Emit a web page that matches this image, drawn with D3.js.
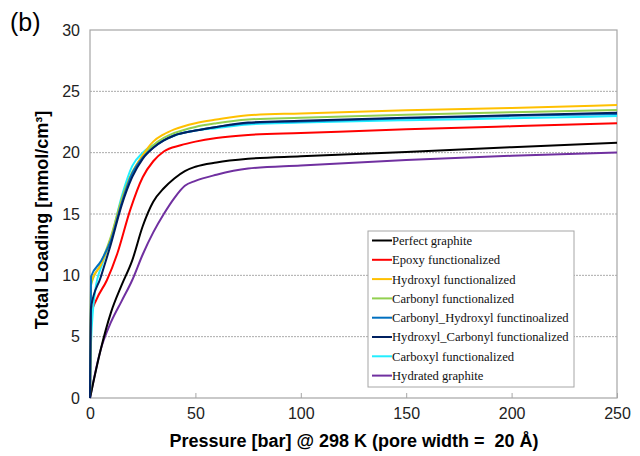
<!DOCTYPE html>
<html lang="en">
<head>
<meta charset="UTF-8" />
<title>Total Loading</title>
<style>
  body { margin: 0; background: #fff; }
  .chart { width: 640px; height: 456px; }
</style>
</head>
<body>
<div class="chart"></div>
<script src="https://cdn.jsdelivr.net/npm/d3@7"></script>
<script>

var xTicks = [0, 50, 100, 150, 200, 250];
var yTicks = [0, 5, 10, 15, 20, 25, 30];

var seriesNames = [
  "Perfect graphite",
  "Epoxy functionalized",
  "Hydroxyl functionalized",
  "Carbonyl functionalized",
  "Carbonyl_Hydroxyl functinoalized",
  "Hydroxyl_Carbonyl functionalized",
  "Carboxyl functionalized",
  "Hydrated graphite"
];
var seriesColors = ["#000000", "#ff0000", "#ffc000", "#92d050", "#0070c0", "#002060", "#22eeff", "#7030a0"];

// pressure [bar], loading [mmol/cm3]
var perfectP = [0, 5, 10, 15, 20, 25, 30, 35, 40, 45, 50, 60, 75, 100, 150, 200, 250];
var perfectL = [0, 3.9, 7.0, 9.2, 11.2, 14.0, 16.0, 17.1, 17.9, 18.5, 18.85, 19.2, 19.5, 19.7, 20.05, 20.45, 20.81];

var epoxyP = [0, 0.5, 3, 8, 13, 19, 25, 30, 35, 43, 50, 60, 75, 100, 150, 200, 250];
var epoxyL = [0, 6.8, 8.0, 9.6, 11.8, 15.3, 18.0, 19.3, 20.1, 20.6, 20.9, 21.2, 21.45, 21.6, 21.9, 22.15, 22.39];

var hydroxylP = [0, 0.5, 5, 10, 15, 20, 25, 30, 35, 40, 50, 60, 75, 100, 150, 200, 250];
var hydroxylL = [0, 9.5, 10.8, 13.0, 16.0, 18.3, 19.8, 20.9, 21.5, 21.9, 22.4, 22.7, 23.05, 23.2, 23.45, 23.65, 23.88];

var carbonylP = [0, 0.5, 5, 10, 15, 20, 25, 30, 35, 40, 50, 60, 75, 100, 150, 200, 250];
var carbonylL = [0, 9.2, 10.9, 13.2, 16.2, 18.4, 19.7, 20.6, 21.2, 21.6, 22.1, 22.4, 22.7, 22.85, 23.1, 23.3, 23.47];

var carbHydP = [0, 0.5, 5, 10, 15, 20, 25, 30, 35, 40, 50, 60, 75, 100, 150, 200, 250];
var carbHydL = [0, 9.9, 11.1, 12.9, 15.9, 18.3, 19.6, 20.4, 21.0, 21.4, 21.8, 22.1, 22.4, 22.55, 22.8, 23.0, 23.15];

var hydCarbP = [0, 0.5, 5, 10, 15, 20, 25, 30, 35, 40, 50, 60, 75, 100, 150, 200, 250];
var hydCarbL = [0, 7.4, 9.8, 12.6, 15.7, 18.0, 19.5, 20.4, 21.0, 21.4, 21.8, 22.1, 22.45, 22.6, 22.85, 23.05, 23.25];

var carboxylP = [0, 0.5, 2.5, 6, 10, 15, 20, 25, 30, 35, 40, 50, 60, 75, 100, 150, 200, 250];
var carboxylL = [0, 4.6, 8.8, 11.0, 13.0, 16.4, 18.9, 20.0, 20.6, 21.0, 21.4, 21.8, 22.0, 22.3, 22.45, 22.65, 22.8, 22.98];

var hydratedP = [0, 5, 10, 15, 20, 25, 30, 35, 40, 45, 50, 60, 75, 100, 150, 200, 250];
var hydratedL = [0, 3.9, 6.2, 7.9, 9.6, 11.7, 13.5, 15.0, 16.3, 17.3, 17.7, 18.2, 18.7, 18.95, 19.4, 19.75, 20.02];

var pressures = [perfectP, epoxyP, hydroxylP, carbonylP, carbHydP, hydCarbP, carboxylP, hydratedP];
var loadings = [perfectL, epoxyL, hydroxylL, carbonylL, carbHydL, hydCarbL, carboxylL, hydratedL];

var width = 640;
var height = 456;
var margin = { top: 30, right: 23, bottom: 58, left: 90 };
var innerW = width - margin.left - margin.right;
var innerH = height - margin.top - margin.bottom;

var svg = d3.select(".chart")
  .append("svg")
  .attr("width", width)
  .attr("height", height)
  .style("font-family", "Arial, 'Liberation Sans', sans-serif");

var g = svg.append("g")
  .attr("transform", "translate(" + margin.left + "," + margin.top + ")");

var x = d3.scaleLinear().domain([0, 250]).range([0, innerW]);
var y = d3.scaleLinear().domain([0, 30]).range([innerH, 0]);

// grid
g.selectAll(".grid")
  .data(yTicks.filter(function(d){ return d > 0 && d < 30; }))
  .enter()
  .append("line")
  .attr("x1", 0)
  .attr("x2", innerW)
  .attr("y1", function(d){ return y(d); })
  .attr("y2", function(d){ return y(d); })
  .attr("stroke", "#aaa")
  .attr("stroke-width", 1)
  .attr("stroke-dasharray", "2,1");

// frame
g.append("rect")
  .attr("x", 0).attr("y", 0)
  .attr("width", innerW).attr("height", innerH)
  .attr("fill", "none")
  .attr("stroke", "#a6a6a6")
  .attr("stroke-width", 1.2);

// axes
var xAxis = g.append("g")
  .attr("transform", "translate(0," + innerH + ")")
  .call(d3.axisBottom(x).tickValues(xTicks).tickSizeInner(-5).tickSizeOuter(0).tickPadding(10));
xAxis.select(".domain").remove();
xAxis.selectAll("line").attr("stroke", "#a6a6a6");
xAxis.selectAll("text").attr("font-size", 16).attr("fill", "#222");

var yAxis = g.append("g")
  .call(d3.axisLeft(y).tickValues(yTicks).tickSize(0).tickPadding(10));
yAxis.select(".domain").remove();
yAxis.selectAll("text").attr("font-size", 16).attr("fill", "#222");

// lines
var line = d3.line()
  .x(function(d){ return x(d[0]); })
  .y(function(d){ return y(d[1]); })
  .curve(d3.curveMonotoneX);

var drawOrder = [7, 0, 1, 6, 3, 2, 4, 5];
drawOrder.forEach(function(i){
  var pts = pressures[i].map(function(p, j){ return [p, loadings[i][j]]; });
  g.append("path")
    .datum(pts)
    .attr("d", line)
    .attr("fill", "none")
    .attr("stroke", seriesColors[i])
    .attr("stroke-width", 2);
});

// legend
var legend = svg.append("g").attr("transform", "translate(368,231)");
legend.append("rect")
  .attr("width", 206).attr("height", 156)
  .attr("fill", "#fff")
  .attr("stroke", "#a6a6a6")
  .attr("stroke-width", 1);

var rows = legend.selectAll(".row")
  .data(seriesNames)
  .enter()
  .append("g")
  .attr("transform", function(d, i){ return "translate(0," + (9.5 + i * 19.3) + ")"; });
rows.append("line")
  .attr("x1", 4).attr("x2", 24)
  .attr("stroke", function(d, i){ return seriesColors[i]; })
  .attr("stroke-width", 2);
rows.append("text")
  .attr("x", 24)
  .attr("dy", "0.35em")
  .attr("font-family", "'Liberation Serif', 'Times New Roman', serif")
  .attr("font-size", 12.6)
  .attr("fill", "#111")
  .text(function(d){ return d; });

// titles
svg.append("text")
  .attr("x", 354).attr("y", 447)
  .attr("text-anchor", "middle")
  .attr("font-size", 18)
  .attr("font-weight", "bold")
  .style("white-space", "pre")
  .text("Pressure [bar] @ 298 K (pore width =  20 Å)");

svg.append("text")
  .attr("transform", "translate(48,220) rotate(-90)")
  .attr("text-anchor", "middle")
  .attr("font-size", 18)
  .attr("font-weight", "bold")
  .text("Total Loading [mmol/cm³]");

svg.append("text")
  .attr("x", 10).attr("y", 31)
  .attr("font-size", 25)
  .text("(b)");

</script>
</body>
</html>
